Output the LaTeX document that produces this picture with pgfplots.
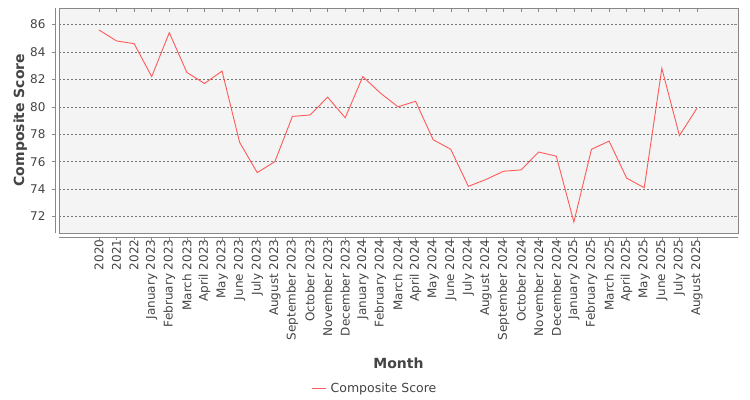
\documentclass[border=0pt]{standalone}
\usepackage{pgfplots}
\pgfplotsset{compat=1.18}
\usepackage{fontspec}
\setmainfont{DejaVu Sans}
\definecolor{txt}{HTML}{444444}
\definecolor{plotbg}{HTML}{F4F4F4}
\definecolor{border}{HTML}{888888}
\definecolor{gridc}{HTML}{777777}
\definecolor{series}{HTML}{FF5A5A}
\begin{document}
\begin{tikzpicture}
\useasboundingbox (0,0) rectangle (750bp,400bp);
\begin{axis}[
  at={(59bp,167bp)}, anchor=south west,
  width=679bp, height=225bp, scale only axis,
  xmin=-2.27, xmax=36.33, ymin=70.8, ymax=87.2,
  axis background/.style={fill=plotbg},
  axis line style={border, line width=0.8bp},
  xtick={0,...,34},
  xticklabels={2020,2021,2022,January 2023,February 2023,March 2023,April 2023,May 2023,June 2023,July 2023,August 2023,September 2023,October 2023,November 2023,December 2023,January 2024,February 2024,March 2024,April 2024,May 2024,June 2024,July 2024,August 2024,September 2024,October 2024,November 2024,December 2024,January 2025,February 2025,March 2025,April 2025,May 2025,June 2025,July 2025,August 2025},
  ytick={72,74,...,86},
  /pgf/number format/assume math mode=true,
  tick label style={font=\fontsize{12bp}{14bp}\selectfont, text=txt},
  x tick label style={rotate=90, anchor=east},
  y tick label style={xshift=-7bp},
  tick align=outside,
  major tick length=3bp,
  x tick style={yshift=-4bp, border, line width=0.5bp},
  y tick style={xshift=-4bp, border, line width=0.5bp},
  ymajorgrids,
  grid style={gridc, dash pattern=on 2bp off 2bp, line width=0.5bp},
  xlabel={Month},
  ylabel={Composite Score},
  xlabel style={at={(axis description cs:0.5,-0.578)}, anchor=center, font=\bfseries\fontsize{14bp}{16bp}\selectfont, text=txt},
  ylabel style={at={(axis description cs:-0.057,0.502)}, anchor=center, rotate=0, font=\bfseries\fontsize{14bp}{16bp}\selectfont, text=txt},
  legend style={at={(axis description cs:0.4655,-0.69)}, anchor=center, draw=none, fill=none, font=\fontsize{12.5bp}{14bp}\selectfont, text=txt},
  legend image code/.code={\draw[#1] (0bp,0bp) -- (14bp,0bp);},
  legend cell align=left,
  clip=false,
]
\draw[border, line width=0.8bp] ([xshift=-4bp]rel axis cs:0,0) -- ([xshift=-4bp]rel axis cs:0,1);
\draw[border, line width=0.8bp] ([yshift=-4bp]rel axis cs:0,0) -- ([yshift=-4bp]rel axis cs:1,0);
\addplot[series, line width=0.9bp] coordinates {
(0,85.6) (1,84.8) (2,84.6) (3,82.2) (4,85.4) (5,82.5) (6,81.7) (7,82.6) (8,77.4) (9,75.2) (10,76.0)
(11,79.3) (12,79.4) (13,80.7) (14,79.2) (15,82.2) (16,81.0) (17,80.0) (18,80.4) (19,77.6) (20,76.9)
(21,74.2) (22,74.7) (23,75.3) (24,75.4) (25,76.7) (26,76.4) (27,71.6) (28,76.9) (29,77.5) (30,74.8)
(31,74.1) (32,82.8) (33,77.9) (34,79.9)
};
\addlegendentry{\hspace{2bp}Composite Score}
\end{axis}
\end{tikzpicture}
\end{document}
